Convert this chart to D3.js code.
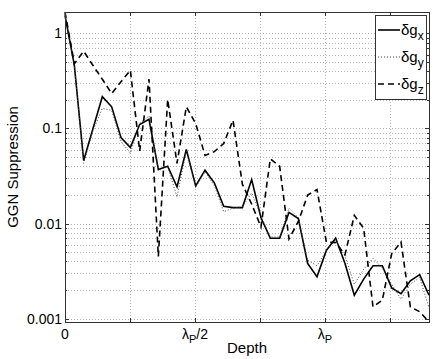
<!DOCTYPE html>
<meta charset="utf-8">
<head>
<style>
  body { margin: 0; background: #fff; }
  text { font-family: "Liberation Sans", Arial, sans-serif; fill: #000; }
  .grid line { stroke: #b4b4b4; stroke-width: 1; stroke-dasharray: 1,2; }
</style>
</head>
<body>
<svg id="chart"></svg>
<script src="https://cdn.jsdelivr.net/npm/d3@7"></script>
<script>
// depth in units of lambda_P
var depth = [0, 0.0359, 0.0718, 0.1077, 0.1436, 0.1795, 0.2154, 0.2513, 0.2872, 0.3231,
  0.3590, 0.3949, 0.4308, 0.4667, 0.5026, 0.5385, 0.5744, 0.6103, 0.6462, 0.6821,
  0.7179, 0.7538, 0.7897, 0.8256, 0.8615, 0.8974, 0.9333, 0.9692, 1.0051, 1.0410,
  1.0769, 1.1128, 1.1487, 1.1846, 1.2205, 1.2564, 1.2923, 1.3282, 1.3641, 1.4];

var gx = [1.55, 0.464, 0.046, 0.100, 0.216, 0.169, 0.080, 0.063, 0.110, 0.125,
  0.037, 0.040, 0.0243, 0.060, 0.0249, 0.0364, 0.0268, 0.0152, 0.0147, 0.0147,
  0.029, 0.0115, 0.0070, 0.0070, 0.0131, 0.0113, 0.0038, 0.00275, 0.0052, 0.0070,
  0.0038, 0.00176, 0.0026, 0.0036, 0.0036, 0.0021, 0.00183, 0.0025, 0.0029, 0.00176];

var gy = [1.6, 0.46, 0.043, 0.095, 0.163, 0.155, 0.073, 0.055, 0.113, 0.135,
  0.036, 0.040, 0.019, 0.058, 0.024, 0.035, 0.025, 0.0133, 0.0145, 0.015,
  0.021, 0.012, 0.0072, 0.0072, 0.0145, 0.0115, 0.0041, 0.0036, 0.0052, 0.0068,
  0.0045, 0.0023, 0.0033, 0.0043, 0.0034, 0.0023, 0.0016, 0.0023, 0.0027, 0.0013];

var gz = [1.68, 0.48, 0.65, 0.46, 0.33, 0.233, 0.31, 0.41, 0.058, 0.33,
  0.0045, 0.202, 0.043, 0.169, 0.113, 0.052, 0.057, 0.0695, 0.122, 0.026,
  0.016, 0.0092, 0.048, 0.040, 0.0069, 0.0105, 0.0199, 0.0228, 0.0064, 0.0063,
  0.0047, 0.0122, 0.0089, 0.00133, 0.00156, 0.0048, 0.0064, 0.00133, 0.00118, 0.00092];

var xTicks = [0, 0.25, 0.5, 0.75, 1, 1.25];
var xTickLabels = ["0", "", "λP/2", "", "λP", ""];
var yTicks = [0.001, 0.01, 0.1, 1];
var yTickLabels = ["0.001", "0.01", "0.1", "1"];

var series = [
  {name: "x", values: gx, dash: null, color: "#000", width: 1.6},
  {name: "y", values: gy, dash: "1,2", color: "#444", width: 1},
  {name: "z", values: gz, dash: "6,4", color: "#000", width: 1.6}
];

var W = 436, H = 359;
var margin = {top: 12, right: 7, bottom: 37, left: 65};
var width = W - margin.left - margin.right,
    height = H - margin.top - margin.bottom;

var svg = d3.select("#chart").attr("width", W).attr("height", H);
var g = svg.append("g").attr("transform", "translate(" + margin.left + "," + margin.top + ")");

var x = d3.scaleLinear().domain([0, 1.4]).range([0, width]);
var y = d3.scaleLog().domain([0.00092, 1.68]).range([height, 0]);

// minor log values
var minor = [];
[0.001, 0.01, 0.1, 1].forEach(function(dec) {
  for (var k = 1; k <= 9; k++) {
    var v = dec * k;
    if (v >= y.domain()[0] && v <= y.domain()[1]) minor.push(v);
  }
});

// grid
var grid = g.append("g").attr("class", "grid");
grid.selectAll(".hg").data(minor).enter().append("line")
  .attr("x1", 0).attr("x2", width)
  .attr("y1", function(d) { return Math.round(y(d)) + 0.5; })
  .attr("y2", function(d) { return Math.round(y(d)) + 0.5; });
grid.selectAll(".vg").data(xTicks.slice(1)).enter().append("line")
  .attr("y1", 0).attr("y2", height)
  .attr("x1", function(d) { return Math.round(x(d)) + 0.5; })
  .attr("x2", function(d) { return Math.round(x(d)) + 0.5; });

// lines
var line = d3.line()
  .x(function(d, i) { return x(depth[i]); })
  .y(function(d) { return y(d); });

series.forEach(function(s) {
  g.append("path")
    .datum(s.values)
    .attr("d", line)
    .attr("fill", "none")
    .attr("stroke", s.color)
    .attr("stroke-width", s.width)
    .attr("stroke-dasharray", s.dash);
});

// box
g.append("rect").attr("x", 0.5).attr("y", 0.5).attr("width", width).attr("height", height)
  .attr("fill", "none").attr("stroke", "#333").attr("stroke-width", 1);

// ticks (inward, both sides)
var ticks = g.append("g").attr("stroke", "#333").attr("stroke-width", 1);
xTicks.forEach(function(t) {
  var px = Math.round(x(t)) + 0.5;
  ticks.append("line").attr("x1", px).attr("x2", px).attr("y1", height).attr("y2", height - 4);
  ticks.append("line").attr("x1", px).attr("x2", px).attr("y1", 0).attr("y2", 4);
});
minor.forEach(function(v) {
  var py = Math.round(y(v)) + 0.5;
  var len = yTicks.indexOf(v) >= 0 ? 4 : 2;
  ticks.append("line").attr("x1", 0).attr("x2", len).attr("y1", py).attr("y2", py);
  ticks.append("line").attr("x1", width - len).attr("x2", width).attr("y1", py).attr("y2", py);
});

// y tick labels
g.selectAll(".yl").data(yTicks).enter().append("text")
  .attr("x", -3).attr("y", function(d) { return y(d) + 5; })
  .attr("text-anchor", "end").attr("font-size", 14)
  .text(function(d, i) { return yTickLabels[i]; });

// x tick labels with subscripts
xTicks.forEach(function(t, i) {
  var lab = xTickLabels[i];
  if (!lab) return;
  var tx = g.append("text").attr("x", x(t)).attr("y", height + 17)
    .attr("text-anchor", "middle").attr("font-size", 14);
  if (lab.indexOf("λP") === 0) {
    tx.append("tspan").text("λ");
    tx.append("tspan").attr("dy", 4).attr("font-size", 11).text("P");
    var rest = lab.slice(2);
    if (rest) tx.append("tspan").attr("dy", -4).text(rest);
  } else {
    tx.text(lab);
  }
});

// axis labels
g.append("text").attr("x", width / 2).attr("y", height + 31)
  .attr("text-anchor", "middle").attr("font-size", 15).text("Depth");
svg.append("text")
  .attr("transform", "translate(18," + (margin.top + height / 2) + ") rotate(-90)")
  .attr("text-anchor", "middle").attr("font-size", 15).text("GGN Suppression");

// legend
var lg = svg.append("g").attr("transform", "translate(375,15)");
lg.append("rect").attr("x", 0.5).attr("y", 0.5).attr("width", 51).attr("height", 84)
  .attr("fill", "#fff").attr("stroke", "#333");
series.forEach(function(s, i) {
  var ly = 15 + i * 27;
  lg.append("line").attr("x1", 3).attr("x2", 25).attr("y1", ly).attr("y2", ly)
    .attr("stroke", s.color).attr("stroke-width", s.width).attr("stroke-dasharray", s.dash);
  var t = lg.append("text").attr("x", 26).attr("y", ly + 5).attr("font-size", 15);
  t.append("tspan").text("δg");
  t.append("tspan").attr("dy", 5).attr("font-size", 12).text(s.name);
});
</script>
</body>
